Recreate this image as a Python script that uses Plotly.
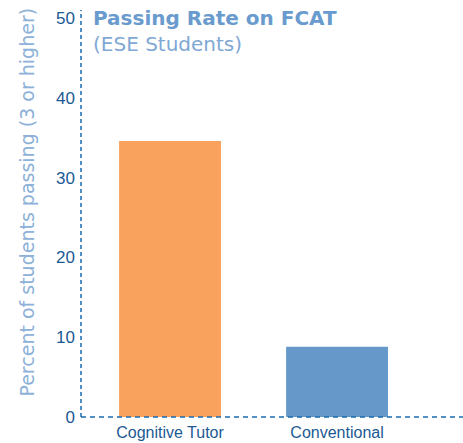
import plotly.graph_objects as go

categories = ["Cognitive Tutor", "Conventional"]
values = [34.6, 8.8]
bar_colors = ["#F9A25E", "#6699C9"]
y_ticks = [0, 10, 20, 30, 40, 50]

fig = go.Figure()
fig.add_trace(go.Bar(
    x=[0, 1], y=values, marker=dict(color=bar_colors, line=dict(width=0)),
    width=0.61, showlegend=False, hoverinfo="skip",
))

tick_color = "#1B5A94"
axis_color = "#1A6BB0"

fig.update_layout(
    width=463, height=443,
    margin=dict(l=81, r=0, t=10, b=26, autoexpand=False),
    paper_bgcolor="white", plot_bgcolor="white",
    font=dict(family="Liberation Sans, Arial, sans-serif"),
    xaxis=dict(
        range=[-0.533, 1.754], tickvals=[0, 1], ticktext=categories,
        showgrid=False, zeroline=False, showline=False, ticks="",
        tickfont=dict(size=16, color=tick_color), ticklabelstandoff=4,
    ),
    yaxis=dict(
        range=[0, 51], tickvals=y_ticks, showgrid=False, zeroline=False,
        showline=False, ticks="", tickfont=dict(size=17, color=tick_color),
        ticklabelstandoff=5,
    ),
    shapes=[
        dict(type="line", xref="paper", yref="paper", x0=0, x1=1, y0=0, y1=0,
             line=dict(color=axis_color, width=1.5, dash="5px,4px")),
        dict(type="line", xref="paper", yref="paper", x0=0, x1=0, y0=0, y1=1,
             line=dict(color=axis_color, width=1.5, dash="4px,3px")),
    ],
    annotations=[
        dict(text="Percent of students passing (3 or higher)",
             xref="paper", yref="paper", x=-0.14, y=0.528,
             xanchor="center", yanchor="middle", textangle=-90, showarrow=False,
             font=dict(size=19, color="#8DB1D8", family="DejaVu Sans")),
        dict(text="<b>Passing Rate on FCAT</b>", xref="paper", yref="paper",
             x=0.026, y=1.014, xanchor="left", yanchor="top", showarrow=False,
             font=dict(size=20, color="#6A9BCE", family="DejaVu Sans")),
        dict(text="(ESE Students)", xref="paper", yref="paper",
             x=0.026, y=0.952, xanchor="left", yanchor="top", showarrow=False,
             font=dict(size=20, color="#7FA8D4", family="DejaVu Sans")),
    ],
)

fig.write_html("out.html", config={"displayModeBar": False, "staticPlot": True},
               post_script="document.body.style.margin='0';")
